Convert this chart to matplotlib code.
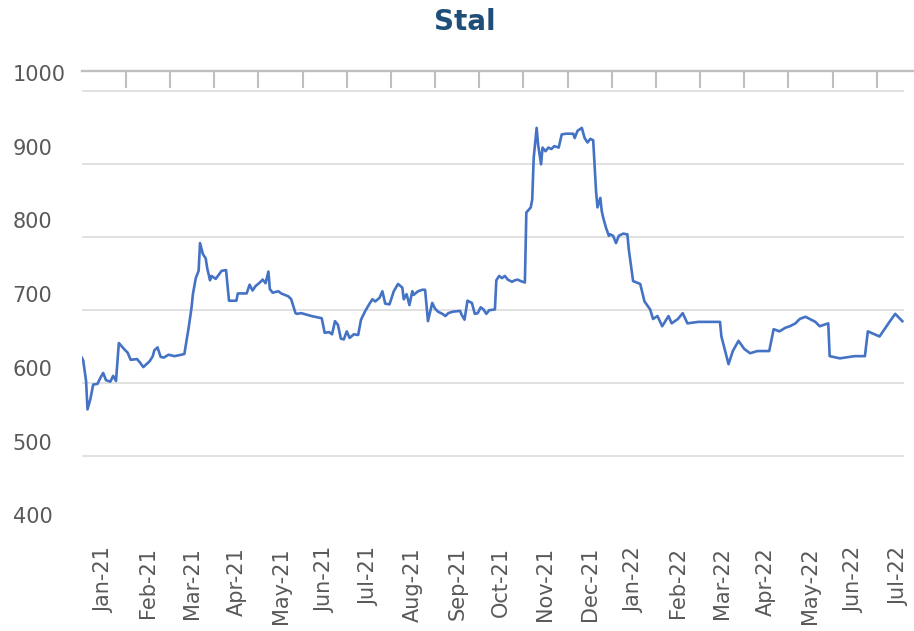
import matplotlib
matplotlib.use("Agg")
import matplotlib.pyplot as plt
import matplotlib.transforms as mtransforms
import numpy as np
import pandas as pd

# steel price
dates = [
    "2021-01-01", "2021-01-02", "2021-01-04", "2021-01-05", "2021-01-07", "2021-01-09",
    "2021-01-12", "2021-01-14", "2021-01-16", "2021-01-18", "2021-01-21", "2021-01-23",
    "2021-01-25", "2021-01-27", "2021-01-31", "2021-02-02", "2021-02-04", "2021-02-08",
    "2021-02-10", "2021-02-12", "2021-02-14", "2021-02-16", "2021-02-18", "2021-02-19",
    "2021-02-21", "2021-02-23", "2021-02-25", "2021-02-28", "2021-03-04", "2021-03-09",
    "2021-03-11", "2021-03-14", "2021-03-16", "2021-03-17", "2021-03-19", "2021-03-21",
    "2021-03-22", "2021-03-24", "2021-03-26", "2021-03-27", "2021-03-29", "2021-03-30",
    "2021-04-02", "2021-04-06", "2021-04-09", "2021-04-11", "2021-04-16", "2021-04-17",
    "2021-04-23", "2021-04-25", "2021-04-27", "2021-04-29", "2021-05-02", "2021-05-04",
    "2021-05-06", "2021-05-08", "2021-05-09", "2021-05-11", "2021-05-15", "2021-05-17",
    "2021-05-22", "2021-05-24", "2021-05-27", "2021-05-28", "2021-05-31", "2021-06-07",
    "2021-06-14", "2021-06-16", "2021-06-19", "2021-06-21", "2021-06-23", "2021-06-25",
    "2021-06-27", "2021-06-29", "2021-07-01", "2021-07-03", "2021-07-06", "2021-07-09",
    "2021-07-11", "2021-07-14", "2021-07-17", "2021-07-19", "2021-07-21", "2021-07-24",
    "2021-07-26", "2021-07-28", "2021-07-31", "2021-08-03", "2021-08-06", "2021-08-09",
    "2021-08-10", "2021-08-12", "2021-08-14", "2021-08-16", "2021-08-17", "2021-08-20",
    "2021-08-23", "2021-08-25", "2021-08-27", "2021-08-30", "2021-09-01", "2021-09-03",
    "2021-09-06", "2021-09-08", "2021-09-10", "2021-09-13", "2021-09-18", "2021-09-19",
    "2021-09-21", "2021-09-23", "2021-09-26", "2021-09-28", "2021-09-30", "2021-10-02",
    "2021-10-04", "2021-10-06", "2021-10-08", "2021-10-12", "2021-10-13", "2021-10-15",
    "2021-10-17", "2021-10-19", "2021-10-21", "2021-10-24", "2021-10-26", "2021-10-28",
    "2021-10-30", "2021-11-02", "2021-11-03", "2021-11-06", "2021-11-07", "2021-11-08",
    "2021-11-10", "2021-11-11", "2021-11-13", "2021-11-14", "2021-11-16", "2021-11-18",
    "2021-11-20", "2021-11-22", "2021-11-25", "2021-11-27", "2021-11-30", "2021-12-05",
    "2021-12-06", "2021-12-08", "2021-12-11", "2021-12-13", "2021-12-15", "2021-12-17",
    "2021-12-19", "2021-12-21", "2021-12-22", "2021-12-24", "2021-12-25", "2021-12-26",
    "2021-12-28", "2021-12-30", "2021-12-31", "2022-01-02", "2022-01-04", "2022-01-06",
    "2022-01-09", "2022-01-12", "2022-01-13", "2022-01-16", "2022-01-21", "2022-01-24",
    "2022-01-28", "2022-01-30", "2022-02-02", "2022-02-05", "2022-02-09", "2022-02-11",
    "2022-02-15", "2022-02-18", "2022-02-21", "2022-02-28", "2022-03-15", "2022-03-16",
    "2022-03-21", "2022-03-24", "2022-03-28", "2022-04-01", "2022-04-05", "2022-04-10",
    "2022-04-18", "2022-04-21", "2022-04-25", "2022-04-29", "2022-05-02", "2022-05-06",
    "2022-05-09", "2022-05-13", "2022-05-20", "2022-05-23", "2022-05-29", "2022-05-30",
    "2022-06-06", "2022-06-16", "2022-06-23", "2022-06-25", "2022-07-03", "2022-07-10",
    "2022-07-14", "2022-07-19",
]
prices = [
    635, 631, 603, 564, 578, 598,
    599, 607, 614, 604, 602, 610,
    603, 655, 646, 642, 632, 633,
    628, 622, 626, 630, 637, 645,
    649, 636, 635, 639, 637, 639,
    640, 676, 703, 722, 744, 754,
    792, 777, 771, 758, 741, 747,
    743, 754, 755, 713, 713, 723,
    723, 735, 727, 733, 738, 742,
    737, 753, 729, 724, 726, 723,
    719, 715, 696, 695, 696, 692,
    689, 669, 670, 667, 685, 680,
    661, 660, 671, 662, 667, 666,
    687, 699, 709, 715, 712, 717,
    726, 709, 708, 726, 736, 731,
    715, 722, 707, 726, 721, 726,
    728, 728, 685, 710, 702, 698,
    695, 692, 696, 698, 699, 694,
    687, 713, 710, 695, 696, 704,
    701, 695, 700, 701, 741, 747,
    744, 747, 742, 739, 741, 742,
    740, 738, 834, 841, 852, 909,
    950, 927, 900, 923, 918, 923,
    921, 925, 923, 941, 942, 942,
    936, 946, 950, 936, 930, 935,
    933, 863, 841, 854, 836, 827,
    813, 802, 804, 802, 792, 802,
    805, 804, 783, 740, 736, 712,
    701, 688, 692, 678, 692, 682,
    688, 696, 682, 684, 684, 664,
    626, 644, 658, 647, 641, 644,
    644, 674, 671, 676, 678, 682,
    688, 691, 684, 678, 682, 637,
    634, 637, 637, 671, 664, 684,
    695, 685,
]
months = ["Jan-21", "Feb-21", "Mar-21", "Apr-21", "May-21", "Jun-21", "Jul-21",
          "Aug-21", "Sep-21", "Oct-21", "Nov-21", "Dec-21", "Jan-22", "Feb-22",
          "Mar-22", "Apr-22", "May-22", "Jun-22", "Jul-22"]
yticks = [400, 500, 600, 700, 800, 900, 1000]

# x as month index, each month one equal slot like the Excel date axis
ts = pd.to_datetime(dates)
xpos = (ts.year - 2021) * 12 + ts.month - 1 + (ts.day - 1) / ts.days_in_month

W, H = 914, 631
fig = plt.figure(figsize=(W / 100, H / 100), dpi=100)
ax = fig.add_axes([81.8 / W, 1 - 529 / H, (W - 81.8) / W, (529 - 71) / H])
ax.set_xlim(0, (W - 81.8) / 44.16)
ax.set_ylim(400, 1028)

ax.hlines(yticks[1:], 0, 18.62, color="#d9d9d9", lw=1.1, zorder=1)
ax.plot(xpos, prices, color="#4472c4", lw=1.9, zorder=3)

for s in ["left", "right", "bottom"]:
    ax.spines[s].set_visible(False)
ax.spines["top"].set_color("#bfbfbf")
ax.spines["top"].set_linewidth(1.7)

ax.set_xticks(np.arange(len(months)) + 0.5, months, rotation=90)
ax.set_xticks(np.arange(1, 19), minor=True)
ax.tick_params(axis="x", which="major", length=0, pad=13, labelsize=15,
               labelcolor="#595959")
ax.tick_params(axis="x", which="minor", bottom=False, top=True, direction="in",
               length=12.5, width=1.5, color="#bfbfbf")

ax.set_yticks(yticks)
ax.tick_params(axis="y", length=0, pad=49.8, labelsize=15, labelcolor="#595959")
for v, lab in zip(yticks, ax.get_yticklabels()):
    lab.set_horizontalalignment("left")
    off = 13.7 + 0.8 * (v - 400) / 100
    lab.set_transform(lab.get_transform() +
                      mtransforms.ScaledTranslation(0, off / 100, fig.dpi_scale_trans))

fig.text(465 / W, 1 - 22 / H, "Stal", ha="center", va="center", fontsize=20,
         fontweight="bold", color="#1f4e79")

fig.savefig("out.png", dpi=100)
